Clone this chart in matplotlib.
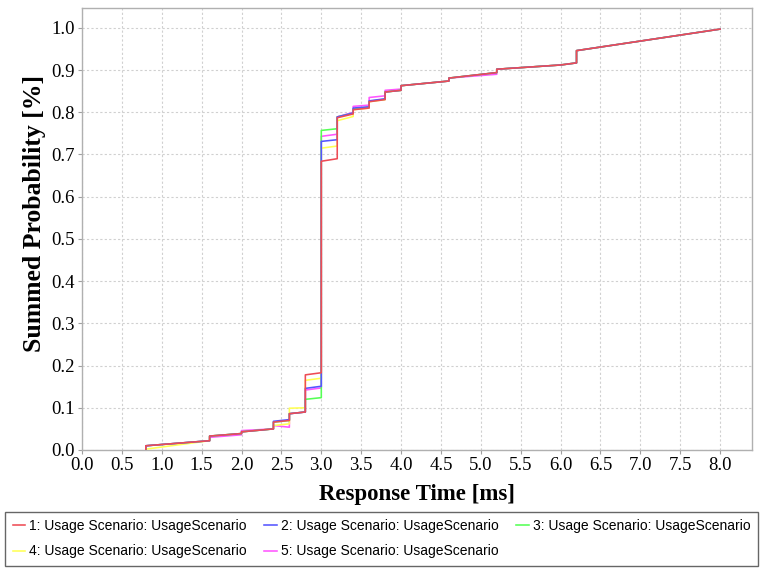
import matplotlib
matplotlib.use("Agg")
import matplotlib.pyplot as plt

# shared x breakpoints (response time in ms); each value appears twice at a jump
time_ms = [0.8, 0.8, 1.6, 1.6, 2.0, 2.0, 2.4, 2.4, 2.6, 2.6, 2.8, 2.8,
           3.0, 3.0, 3.2, 3.2, 3.4, 3.4, 3.6, 3.6, 3.8, 3.8, 4.0, 4.0,
           4.6, 4.6, 5.2, 5.2, 6.0, 6.2, 6.2, 8.0]

prob_1 = [0.000, 0.010, 0.022, 0.033, 0.039, 0.043, 0.050, 0.066, 0.070, 0.086, 0.090, 0.178,
          0.183, 0.684, 0.690, 0.787, 0.796, 0.806, 0.810, 0.825, 0.830, 0.848, 0.852, 0.863,
          0.874, 0.881, 0.894, 0.902, 0.912, 0.917, 0.946, 0.997]
prob_2 = [0.000, 0.010, 0.022, 0.033, 0.039, 0.043, 0.050, 0.068, 0.072, 0.086, 0.090, 0.146,
          0.151, 0.731, 0.735, 0.789, 0.798, 0.810, 0.813, 0.827, 0.832, 0.848, 0.852, 0.863,
          0.874, 0.881, 0.894, 0.902, 0.912, 0.917, 0.946, 0.997]
prob_3 = [0.000, 0.010, 0.022, 0.033, 0.039, 0.043, 0.050, 0.066, 0.070, 0.086, 0.090, 0.120,
          0.124, 0.757, 0.761, 0.789, 0.798, 0.808, 0.812, 0.826, 0.831, 0.848, 0.852, 0.863,
          0.874, 0.881, 0.894, 0.902, 0.912, 0.917, 0.946, 0.997]
prob_4 = [0.000, 0.002, 0.022, 0.033, 0.039, 0.043, 0.050, 0.058, 0.062, 0.099, 0.100, 0.165,
          0.170, 0.715, 0.720, 0.780, 0.790, 0.806, 0.810, 0.825, 0.830, 0.848, 0.852, 0.863,
          0.874, 0.881, 0.894, 0.902, 0.912, 0.917, 0.946, 0.997]
prob_5 = [0.000, 0.010, 0.022, 0.030, 0.036, 0.046, 0.050, 0.058, 0.054, 0.086, 0.090, 0.142,
          0.147, 0.743, 0.748, 0.789, 0.800, 0.814, 0.817, 0.835, 0.839, 0.852, 0.855, 0.863,
          0.874, 0.881, 0.890, 0.902, 0.912, 0.917, 0.946, 0.997]

series = [prob_1, prob_2, prob_3, prob_4, prob_5]
labels = ["%d: Usage Scenario: UsageScenario" % (i + 1) for i in range(5)]
colors = ["#ee4c55", "#5555ff", "#55ff55", "#ffff55", "#ff55ff"]

fig = plt.figure(figsize=(7.63, 5.70), dpi=100)
ax = fig.add_axes([82 / 763, 120 / 570, 670 / 763, 442 / 570])

handles = []
for i, (ys, c, lab) in enumerate(zip(series, colors, labels)):
    h, = ax.plot(time_ms, ys, color=c, linewidth=1.15, label=lab, zorder=10 - i)
    handles.append(h)

ax.set_xlim(0, 8.4)
ax.set_ylim(0, 1.047)
ax.set_xticks([i * 0.5 for i in range(17)])
ax.set_yticks([i * 0.1 for i in range(11)])
ax.set_xticklabels(["%.1f" % (i * 0.5) for i in range(17)], fontfamily="Liberation Serif", fontsize=13.5)
ax.set_yticklabels(["%.1f" % (i * 0.1) for i in range(11)], fontfamily="Liberation Serif", fontsize=13.5)
ax.tick_params(axis="both", length=3, width=0.8, color="#a0a0a0", pad=2)

ax.grid(True, color="#d0d0d0", linestyle=(0, (2, 2)), linewidth=0.8)
ax.set_axisbelow(True)
for s in ax.spines.values():
    s.set_color("#b0b0b0")
    s.set_linewidth(1.0)

ax.set_xlabel("Response Time [ms]", fontfamily="Liberation Serif", fontweight="bold", fontsize=16.5, labelpad=7)
ax.set_ylabel("Summed Probability [%]", fontfamily="Liberation Serif", fontweight="bold", fontsize=18.5)
ax.yaxis.set_label_coords(-0.054, 0.535)

# legend rows: 1 2 3 / 4 5
order = [0, 3, 1, 4, 2]
leg = fig.legend([handles[i] for i in order], [labels[i] for i in order],
                 loc="lower left", bbox_to_anchor=(5 / 763, 4 / 570, 753 / 763, 54 / 570),
                 mode="expand", ncol=3, handlelength=0.9, handletextpad=0.3,
                 borderaxespad=0, borderpad=0.55, fancybox=False, frameon=True,
                 prop={"family": "Liberation Sans", "size": 10}, labelspacing=0.8)
leg.get_frame().set_edgecolor("#404040")
leg.get_frame().set_linewidth(1.0)

fig.savefig("out.png", dpi=100)
